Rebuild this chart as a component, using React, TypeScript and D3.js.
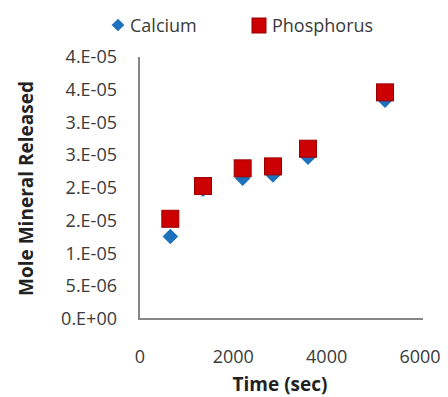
import React from "react";
import * as d3 from "d3";

const times = [650, 1350, 2200, 2850, 3600, 5250];
const calcium = [1.26e-5, 1.98e-5, 2.15e-5, 2.2e-5, 2.47e-5, 3.34e-5];
const phosphorus = [1.53e-5, 2.03e-5, 2.3e-5, 2.33e-5, 2.6e-5, 3.46e-5];
const yTicks = [0, 5e-6, 1e-5, 1.5e-5, 2e-5, 2.5e-5, 3e-5, 3.5e-5, 4e-5];
const yTickLabels = ["0.E+00", "5.E-06", "1.E-05", "2.E-05", "2.E-05", "3.E-05", "3.E-05", "4.E-05", "4.E-05"];
const xTicks = [0, 2000, 4000, 6000];
const seriesNames = ["Calcium", "Phosphorus"];

const W = 448;
const H = 397;
const FONT = "'Open Sans', sans-serif";

export default function App() {
  const x = d3.scaleLinear().domain([0, 6000]).range([140, 420]);
  const y = d3.scaleLinear().domain([0, 4e-5]).range([319, 57]);
  const diamond = d3.symbol().type(d3.symbolSquare).size(11 * 11)();
  const axisColor = "#868686";
  const blue = "#1e72bd";
  const red = "#cc0000";
  const redStroke = "#9a0000";
  const sq = 17;
  const textColor = "#3a3a3a";

  return (
    <svg width={W} height={H} style={{ position: "absolute", left: 0, top: 0, background: "#fff" }}>
      {/* axes */}
      <line x1={139} x2={139} y1={y(4e-5)} y2={y(0) + 1} stroke={axisColor} strokeWidth={2} />
      <line x1={138} x2={423} y1={y(0)} y2={y(0)} stroke={axisColor} strokeWidth={2} />
      {yTicks.map((t, i) => (
        <text key={i} x={117} y={y(t) + 6} textAnchor="end" fontFamily={FONT} fontSize={18} fill={textColor}>
          {yTickLabels[i]}
        </text>
      ))}
      {xTicks.map((t, i) => (
        <text key={i} x={x(t)} y={363} textAnchor="middle" fontFamily={FONT} fontSize={18} fill={textColor}>
          {t}
        </text>
      ))}
      <text x={280} y={391} textAnchor="middle" fontFamily={FONT} fontSize={19} fontWeight="bold" fill="#222">
        Time (sec)
      </text>
      <text
        transform={`translate(33,188.5) rotate(-90)`}
        textAnchor="middle"
        fontFamily={FONT}
        fontSize={19}
        fontWeight="bold"
        fill="#222"
      >
        Mole Mineral Released
      </text>
      {/* calcium */}
      {times.map((t, i) => (
        <path key={"c" + i} d={diamond!} transform={`translate(${x(t)},${y(calcium[i])}) rotate(45)`} fill={blue} />
      ))}
      {/* phosphorus */}
      {times.map((t, i) => (
        <rect
          key={"p" + i}
          x={x(t) - sq / 2}
          y={y(phosphorus[i]) - sq / 2}
          width={sq}
          height={sq}
          fill={red}
          stroke={redStroke}
          strokeWidth={1}
        />
      ))}
      {/* legend */}
      <path d={d3.symbol().type(d3.symbolSquare).size(9 * 9)()!} transform="translate(118,25) rotate(45)" fill={blue} />
      <text x={130} y={32} fontFamily={FONT} fontSize={18} fill={textColor}>
        {seriesNames[0]}
      </text>
      <rect x={252} y={18} width={14} height={15} fill={red} stroke={redStroke} strokeWidth={1} />
      <text x={272} y={32} fontFamily={FONT} fontSize={18} fill={textColor}>
        {seriesNames[1]}
      </text>
    </svg>
  );
}
